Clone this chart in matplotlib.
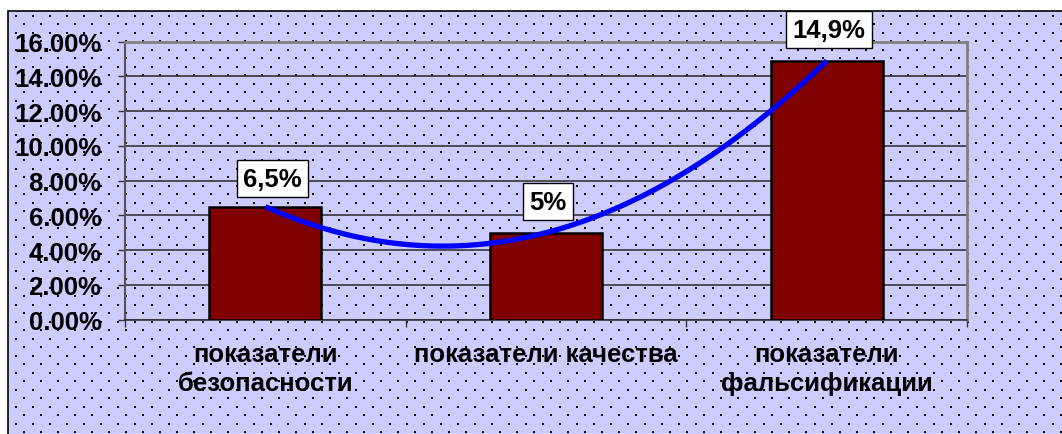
import numpy as np
import matplotlib
matplotlib.use("Agg")
import matplotlib.pyplot as plt
from matplotlib.patches import Rectangle
from matplotlib.ticker import FuncFormatter, FixedLocator

plt.rcParams['font.family'] = ['Liberation Sans', 'DejaVu Sans']

categories = ["показатели\nбезопасности", "показатели качества", "показатели\nфальсификации"]
values = [6.5, 5.0, 14.9]
labels = ["6,5%", "5%", "14,9%"]
yticks = [0, 2, 4, 6, 8, 10, 12, 14, 16]

W, H = 1062, 435
fig = plt.figure(figsize=(W / 100, H / 100), dpi=100)
fig.patch.set_facecolor("white")

# background chart area (lavender with dotted pattern)
bgax = fig.add_axes([0, 0, 1, 1], zorder=-1)
bgax.set_xlim(0, W)
bgax.set_ylim(H, 0)
bgax.axis("off")
bgax.add_patch(Rectangle((8, 12), W + 20, H + 20, facecolor="#CCCCFF",
                         edgecolor="black", linewidth=1.2))
dx, dy = 17.0, 8.5
rows = np.arange(16.5, H, dy)
px, py = [], []
for k, yy in enumerate(rows):
    start = 15.5 if k % 2 == 0 else 15.5 + dx / 2
    xx = np.arange(start, W, dx)
    px.extend(xx)
    py.extend([yy] * len(xx))
bgax.scatter(px, py, marker="s", s=2.0, color="black", linewidths=0)

ax = fig.add_axes([125 / W, 1 - 320.5 / H, (967 - 125) / W, (320.5 - 42.7) / H])
ax.set_facecolor("none")

x = np.arange(len(categories))
ax.bar(x, values, width=0.4, color="#800000", edgecolor="black", linewidth=1.8, zorder=3)

# smooth trend curve through the data points
coef = np.polyfit(x, values, 2)
xs = np.linspace(x[0], x[-1], 200)
ax.plot(xs, np.polyval(coef, xs), color="#0000FF", linewidth=3.8, zorder=4,
        solid_capstyle="butt")

offsets = [(7, 28), (2, 31), (2, 31)]
for xi, v, lab, off in zip(x, values, labels, offsets):
    ax.annotate(lab, (xi, v), xytext=off, textcoords="offset pixels",
                ha="center", va="center", fontsize=18.5, fontweight="bold",
                bbox=dict(boxstyle="square,pad=0.25", facecolor="white",
                          edgecolor="black", linewidth=1), zorder=6,
                annotation_clip=False)

ax.set_xlim(-0.5, 2.5)
ax.set_ylim(0, 16)
ax.set_yticks(yticks)
ax.yaxis.set_major_formatter(FuncFormatter(lambda v, p: f"{v:.2f}%"))
ax.yaxis.grid(True, color="#2a2a2a", linewidth=1.1, zorder=1)
ax.set_axisbelow(True)

ax.set_xticks(x)
ax.set_xticklabels(categories, fontsize=18.5, fontweight="bold", linespacing=1.28)
ax.xaxis.set_minor_locator(FixedLocator([-0.5, 0.5, 1.5, 2.5]))
ax.tick_params(axis="x", which="major", length=0, pad=16)
ax.tick_params(axis="x", which="minor", length=5, width=1, color="#333333", direction="out")
ax.tick_params(axis="y", length=5, width=1, color="#333333", direction="out", pad=12,
               labelsize=18.5)
for t in ax.get_yticklabels():
    t.set_fontweight("bold")

ax.spines["top"].set_color("#808080")
ax.spines["right"].set_color("#808080")
ax.spines["top"].set_linewidth(2)
ax.spines["right"].set_linewidth(2)
ax.spines["left"].set_color("#555555")
ax.spines["left"].set_linewidth(1.5)
ax.spines["bottom"].set_color("#333333")
ax.spines["bottom"].set_linewidth(1.2)

fig.savefig("out.png", dpi=100)
